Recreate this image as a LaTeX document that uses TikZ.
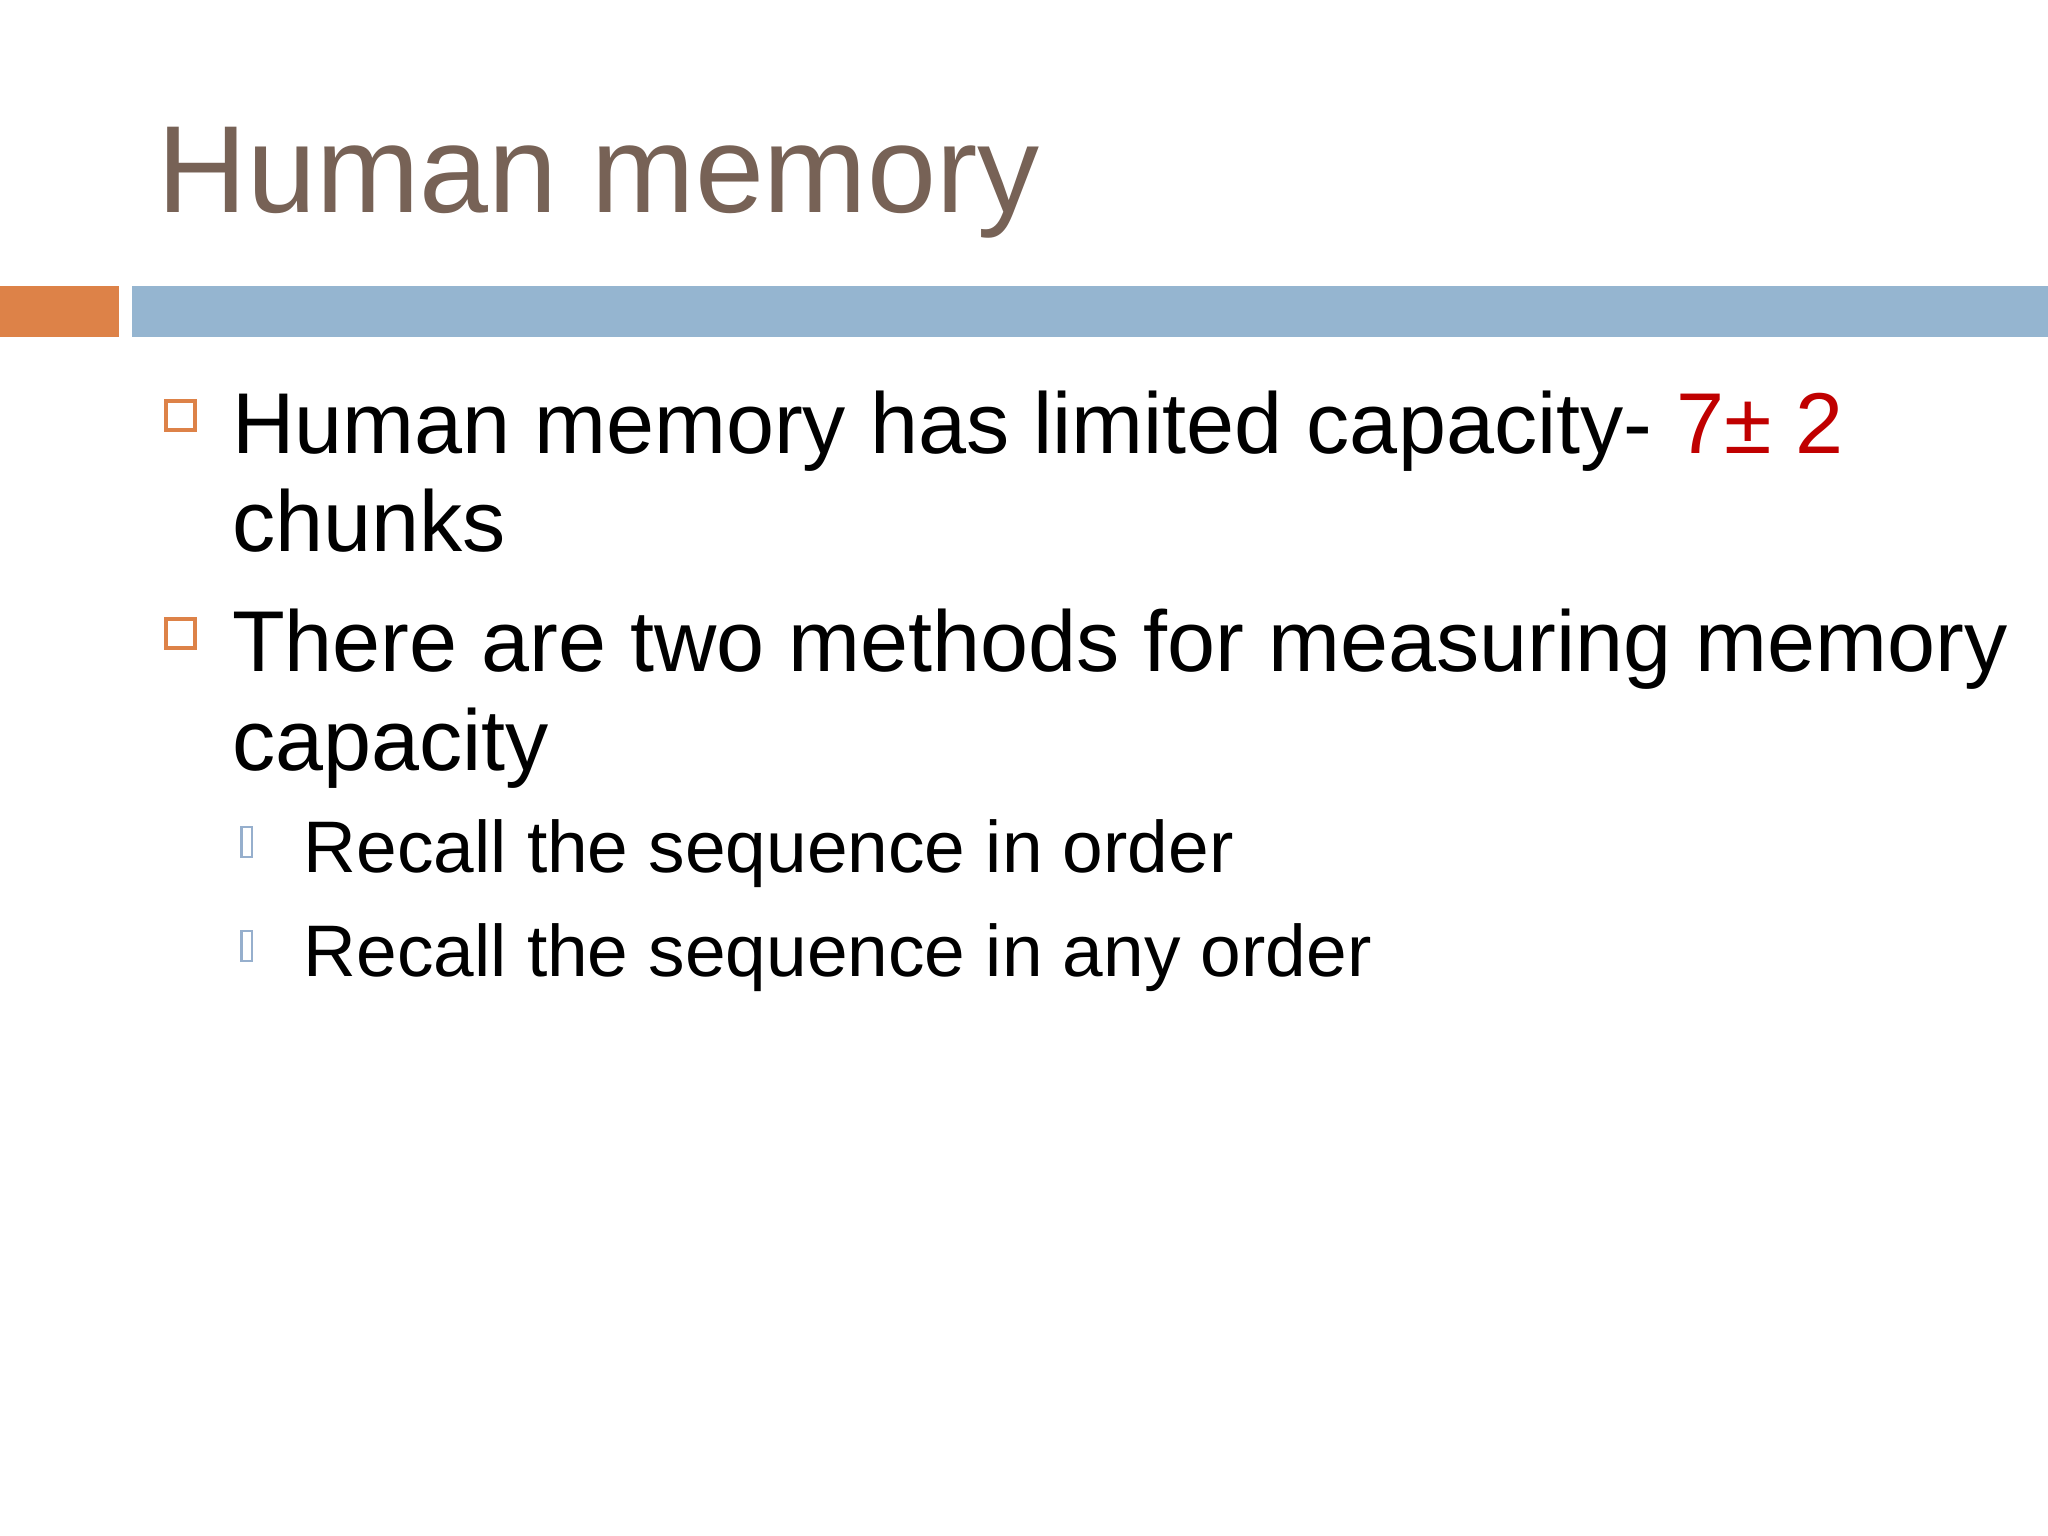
\documentclass[tikz,border=0pt]{standalone}
\usepackage{fontspec}
\setmainfont{Liberation Sans}
\definecolor{titlec}{RGB}{119,98,86}
\definecolor{orangec}{RGB}{221,130,72}
\definecolor{bluec}{RGB}{149,181,208}
\definecolor{redc}{RGB}{192,0,0}
\definecolor{subc}{RGB}{150,175,205}
\begin{document}
\begin{tikzpicture}[x=0.01cm,y=-0.01cm,
  body/.style={anchor=base west,inner sep=0,font=\fontsize{18.8pt}{22pt}\selectfont},
  sub/.style={anchor=base west,inner sep=0,font=\fontsize{15.9pt}{19pt}\selectfont},
  bul/.style={draw=orangec,line width=0.9pt},
  sbul/.style={draw=subc,line width=0.5pt}]
\useasboundingbox[fill=white] (0,0) rectangle (1568,1176);
\node[anchor=base west,inner sep=0,text=titlec,font=\fontsize{27pt}{32pt}\selectfont] (title) at (120,163) {Human memory};
\fill[orangec] (0,219) rectangle (91,258);
\fill[bluec] (101,219) rectangle (1568,258);
\draw[bul] (127,307) rectangle (149,329);
\node[body] (l1) at (177,347) {Human memory has limited capacity- \textcolor{redc}{7± 2}};
\node[body] (l2) at (177,422) {chunks};
\draw[bul] (127,474) rectangle (149,496);
\node[body] (l3) at (177,514) {There are two methods for measuring memory};
\node[body] (l4) at (177,590) {capacity};
\draw[sbul] (185,633) rectangle (193,656);
\node[sub] (s1) at (232,668) {Recall the sequence in order};
\draw[sbul] (185,713) rectangle (193,736);
\node[sub] (s2) at (232,748) {Recall the sequence in any order};
\end{tikzpicture}
\end{document}
